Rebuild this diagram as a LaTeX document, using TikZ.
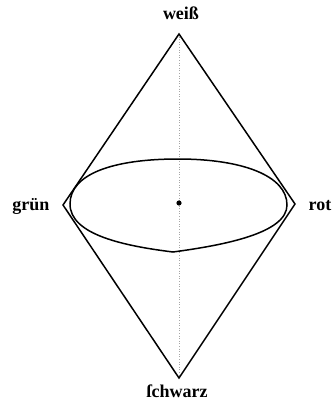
\documentclass[tikz,border=0pt]{standalone}
\usepackage{fontspec}
\setmainfont{Liberation Serif}
\begin{document}
\begin{tikzpicture}[x=1pt,y=-1pt,
  edge/.style={line width=1.5pt,line cap=round},
  axis/.style={gray!70,line width=0.6pt,dotted},
  lab/.style={inner sep=0pt,anchor=base,font=\fontsize{18}{20}\selectfont\bfseries}]
\useasboundingbox (0,0) rectangle (336,406);
\coordinate (top) at (179,34);
\coordinate (left) at (63,205);
\coordinate (right) at (295,204);
\coordinate (bottom) at (179,378);
\coordinate (center) at (179,203);
\draw[axis] (top) -- (bottom);
\draw[edge] (left) -- (top) -- (right) -- (bottom) -- cycle;
\draw[line width=1.5pt] (70,204) .. controls (70,174) and (113,159) .. (178,159)
  .. controls (243,159) and (287,176) .. (287,205)
  .. controls (287,233) and (225,245) .. (173,252)
  .. controls (125,246) and (70,235) .. (70,204) -- cycle;
\fill (center) circle (2.6);
\node[lab] (weiss) at (181,20) {weiß};
\node[lab] (gruen) at (31,210) {grün};
\node[lab] (rot) at (320,210) {rot};
\node[lab] (schwarz) at (177,397) {ſchwarz};
\end{tikzpicture}
\end{document}
